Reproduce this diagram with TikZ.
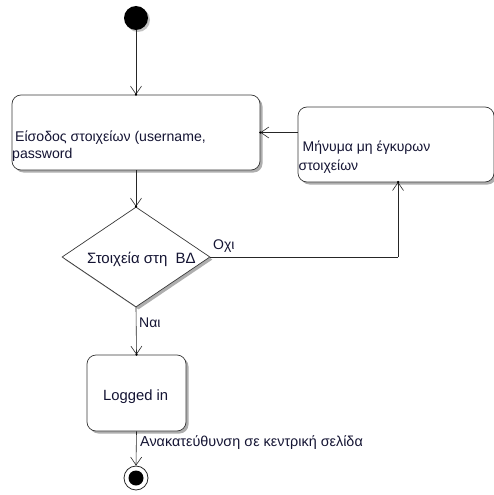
\documentclass[tikz,border=0pt]{standalone}
\usepackage{fontspec}
\setmainfont{Liberation Sans}
\usetikzlibrary{arrows.meta,shapes.geometric,shadows}
\definecolor{ink}{rgb}{0.08,0.08,0.20}
\definecolor{edge}{rgb}{0.22,0.22,0.22}
\begin{document}
\begin{tikzpicture}[x=1pt,y=-1pt,
  shade/.style={drop shadow={shadow xshift=2.5pt,shadow yshift=-2.5pt,fill=black!45,opacity=0.7}},
  statebox/.style={draw=edge,fill=white,rounded corners=9pt,line width=0.7pt,shade,inner sep=0pt},
  choice/.style={diamond,draw=edge,fill=white,line width=0.7pt,shade,inner sep=0pt},
  txt/.style={text=ink,inner sep=0pt,align=left,anchor=base west},
  flow/.style={draw=black!85,line width=0.6pt,-{Straight Barb[length=8pt,width=11pt,line width=0.6pt]}},
  link/.style={draw=black!85,line width=0.6pt},
  dot/.style={circle,fill=black,minimum size=2.5pt,inner sep=0pt},
]
\useasboundingbox (0,0) rectangle (493,495);

% initial pseudo-state
\node[circle,fill=black,minimum size=24pt,inner sep=0pt,
      drop shadow={shadow xshift=2pt,shadow yshift=-2pt,fill=black!40,opacity=0.6}] (start) at (136,18) {};

% activities
\node[statebox,minimum width=248pt,minimum height=75pt] (enter) at (136,132.5) {};
\node[txt,font=\fontsize{14.1pt}{17pt}\selectfont] (enterlbl1) at (15,141) {Είσοδος στοιχείων (username,};
\node[txt,font=\fontsize{14.1pt}{17pt}\selectfont] (enterlbl2) at (12,158) {password};

\node[statebox,minimum width=196pt,minimum height=75pt] (error) at (396,144.5) {};
\node[txt,font=\fontsize{14pt}{17pt}\selectfont] (errorlbl1) at (302.5,151) {Μήνυμα μη έγκυρων};
\node[txt,font=\fontsize{14pt}{17pt}\selectfont] (errorlbl2) at (298.5,170) {στοιχείων};

\node[choice,minimum width=148pt,minimum height=100pt] (check) at (136,257) {};
\node[txt,font=\fontsize{15pt}{18pt}\selectfont] (checklbl) at (87,263) {Στοιχεία στη\ \ ΒΔ};

\node[statebox,minimum width=99pt,minimum height=76pt] (logged) at (136.5,393) {};
\node[txt,font=\fontsize{14.8pt}{18pt}\selectfont] (loggedlbl) at (103,400.5) {Logged in};

% final pseudo-state
\node[circle,draw=black!85,fill=white,line width=0.8pt,minimum size=24pt,inner sep=0pt] (final) at (136,478) {};
\node[circle,fill=black,minimum size=15pt,inner sep=0pt] (finalcore) at (final) {};

% bend point of the rejection path
\coordinate (back) at (398,257);
\coordinate (errin) at (398,182);

% connectors
\draw[flow] (start) -- (enter.north);
\draw[flow] (enter.south) -- (check.north);
\draw[flow] (error.west |- enter.east) -- (enter.east);
\draw[link] (check.east) -- (back);
\draw[flow] (back) -- (errin);
\draw[flow] (check.south) -- (logged.north);
\draw[flow] (logged.south) -- (final.north);

% contact dots on the arrow tips
\node[dot] (d1) at (enter.north) {};
\node[dot] (d2) at (check.north) {};
\node[dot] (d3) at (enter.east) {};
\node[dot] (d4) at (errin) {};
\node[dot] (d5) at (logged.north) {};

% guard and transition labels
\node[txt,font=\fontsize{14pt}{17pt}\selectfont] (no) at (213,249) {Οχι};
\node[txt,font=\fontsize{14pt}{17pt}\selectfont] (yes) at (139,327) {Ναι};
\node[txt,font=\fontsize{14.4pt}{17pt}\selectfont] (redirect) at (140,446.5) {Ανακατεύθυνση σε κεντρική σελίδα};
\end{tikzpicture}
\end{document}
